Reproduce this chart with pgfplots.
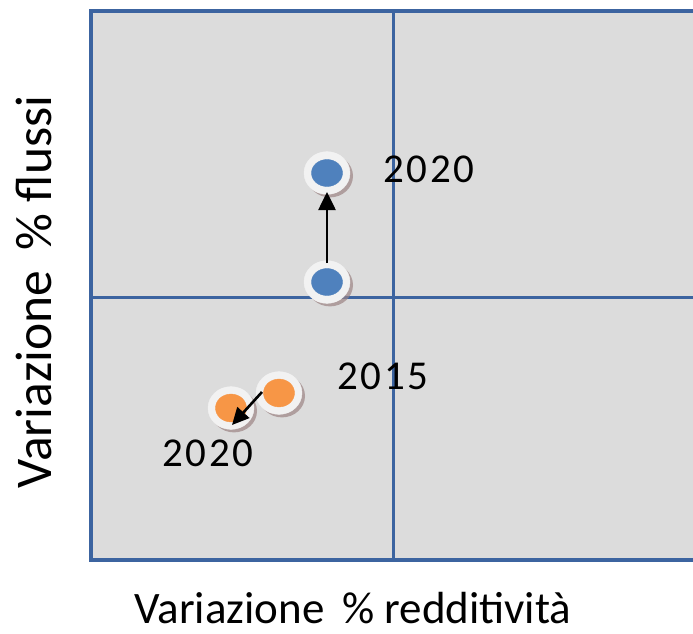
\documentclass[border=0pt]{standalone}
\usepackage{pgfplots}
\pgfplotsset{compat=1.18}
\usetikzlibrary{arrows.meta}
\usepackage{fontspec}
\setmainfont{Carlito}
\definecolor{bg}{HTML}{DCDCDC}
\definecolor{frame}{HTML}{3C64A0}
\definecolor{bluept}{HTML}{4F81BD}
\definecolor{orangept}{HTML}{F79646}
\definecolor{halo}{HTML}{F2F2F2}
\definecolor{shadow}{HTML}{9C8585}
\begin{document}
\begin{tikzpicture}[x=1pt,y=1pt]
\path[use as bounding box] (-91,-73) rectangle (602,560);
\begin{axis}[
  at={(0,0)}, anchor=south west,
  width=602pt, height=549pt, scale only axis,
  xmin=-302, xmax=300, ymin=-263, ymax=286,
  axis lines=none, clip=false,
]
\fill[bg] (axis cs:-302,-263) rectangle (axis cs:300,286);
\draw[frame, line width=3pt] (axis cs:0,-263) -- (axis cs:0,286);
\draw[frame, line width=3pt] (axis cs:-302,0) -- (axis cs:300,0);
\draw[frame, line width=3.8pt] (axis cs:300,286) -- (axis cs:-302,286) -- (axis cs:-302,-263) -- (axis cs:300,-263);
% shadows
\addplot[shadow, only marks, mark=*, mark size=23, mark options={draw=shadow, fill=shadow, fill opacity=0.7, draw opacity=0, yscale=0.93}]
  coordinates {(-63,12) (-63,121) (-111,-99) (-159,-114)};
% halos
\addplot[halo, only marks, mark=*, mark size=23, mark options={draw=halo, fill=halo, yscale=0.93}]
  coordinates {(-66,15) (-66,124) (-114,-96) (-162,-111)};
% blue
\addplot[bluept, only marks, mark=*, mark size=15.5, mark options={draw=bluept, fill=bluept, yscale=0.87}]
  coordinates {(-66,15) (-66,124)};
% orange
\addplot[orangept, only marks, mark=*, mark size=15.5, mark options={draw=orangept, fill=orangept, yscale=0.9}]
  coordinates {(-114,-96) (-162,-111)};
\coordinate (b1) at (axis cs:-66,34);
\coordinate (b2) at (axis cs:-66,105);
\coordinate (o1) at (axis cs:-131,-95);
\coordinate (o2) at (axis cs:-161,-128);
\node[font=\fontsize{41}{41}\selectfont\addfontfeature{LetterSpace=6.5}, anchor=base] at (axis cs:36,115) {2020};
\node[font=\fontsize{41}{41}\selectfont\addfontfeature{LetterSpace=6.5}, anchor=base] at (axis cs:-10,-92) {2015};
\node[font=\fontsize{41}{41}\selectfont\addfontfeature{LetterSpace=6.5}, anchor=base] at (axis cs:-185,-169) {2020};
\end{axis}
\draw[line width=2.6pt, -{Triangle[length=18pt,width=17pt]}] (b1) -- (b2);
\draw[line width=2.6pt, -{Triangle[length=17pt,width=16pt]}] (o1) -- (o2);
\node[font=\fontsize{45}{45}\selectfont, anchor=base] at (262,-63) {Variazione \,\% redditività};
\node[font=\fontsize{51.5}{51.5}\selectfont, rotate=90, anchor=base] at (-39,268) {Variazione \,\% flussi};
\end{tikzpicture}
\end{document}
